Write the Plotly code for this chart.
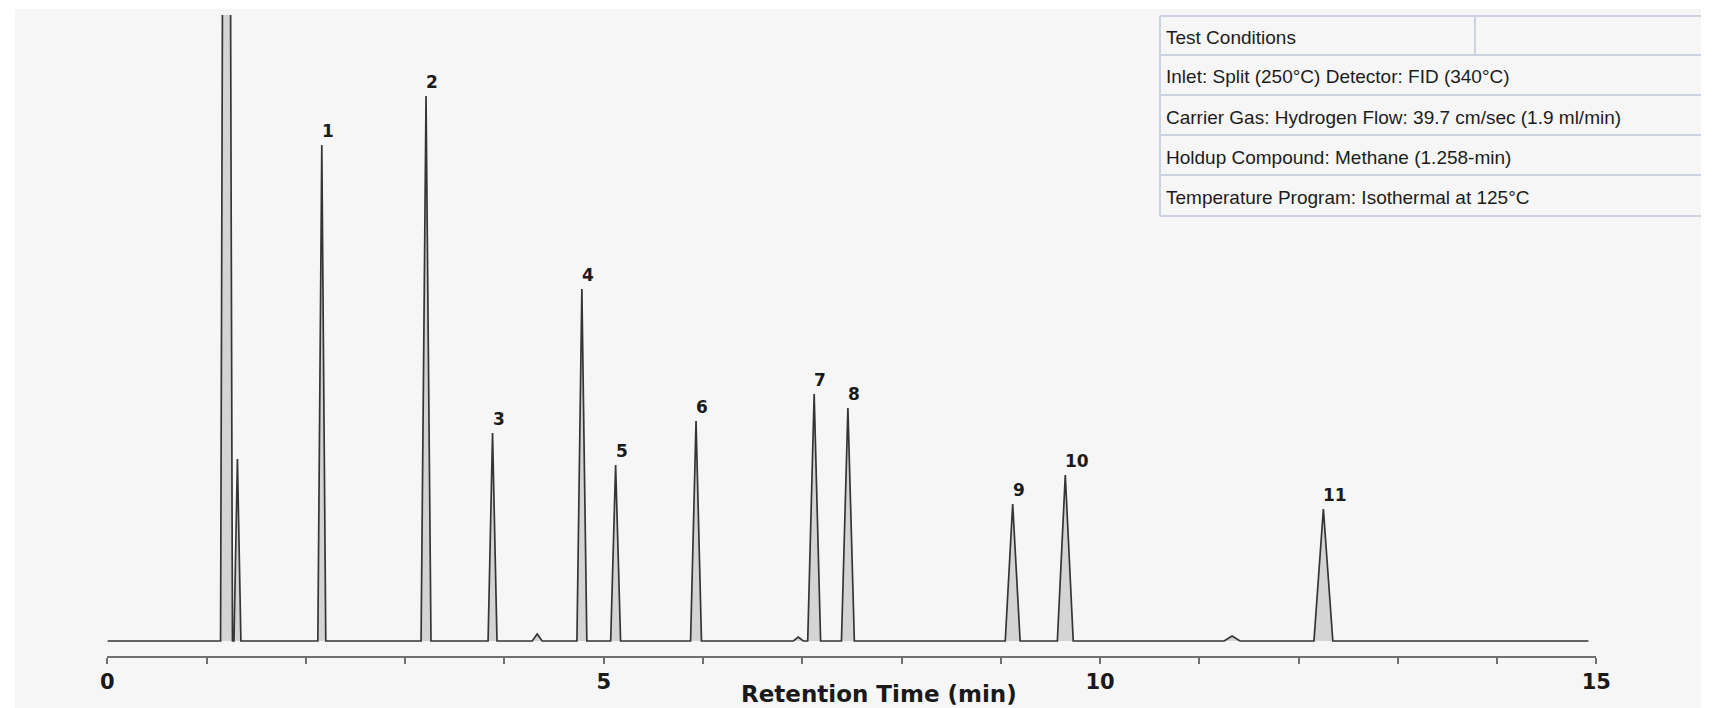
import plotly.graph_objects as go

# Chromatogram peaks: retention time (min), height (detector units), base width (min)
peak_rt = [1.20, 1.31, 2.16, 3.21, 3.88, 4.33, 4.78, 5.12, 5.93, 6.96, 7.12, 7.46,
           9.12, 9.65, 11.33, 12.25]
peak_height = [2000, 182, 496, 545, 208, 7, 352, 176, 220, 4, 247, 233,
               137, 166, 5, 132]
peak_width = [0.12, 0.07, 0.08, 0.10, 0.09, 0.10, 0.10, 0.10, 0.11, 0.10, 0.13, 0.13,
              0.15, 0.16, 0.16, 0.19]
peak_label = ["", "", "1", "2", "3", "", "4", "5", "6", "", "7", "8",
              "9", "10", "", "11"]

run_start = 0.0
run_end = 14.92

conditions = [
    "Test Conditions",
    "Inlet: Split (250°C) Detector: FID (340°C)",
    "Carrier Gas: Hydrogen Flow: 39.7 cm/sec (1.9 ml/min)",
    "Holdup Compound: Methane (1.258-min)",
    "Temperature Program: Isothermal at 125°C",
]

W, H = 1716, 708


def px(x):
    return x / W


def py(y):
    return 1 - y / H


# Build the detector trace: flat baseline with a sharp peak at each retention time
xs, ys = [run_start], [0.0]
for t, h, w in zip(peak_rt, peak_height, peak_width):
    xs += [t - w / 2, t, t + w / 2]
    ys += [0.0, h, 0.0]
xs.append(run_end)
ys.append(0.0)

fig = go.Figure()
fig.add_trace(go.Scatter(
    x=xs, y=ys, mode="lines",
    line=dict(color="#353535", width=1.7),
    fill="tozeroy", fillcolor="rgba(170,170,170,0.45)",
    hoverinfo="skip", showlegend=False,
))

annotations = []
for t, h, lab in zip(peak_rt, peak_height, peak_label):
    if lab:
        annotations.append(dict(
            x=t, y=h, xref="x", yref="y", text=lab, showarrow=False,
            xanchor="left", yanchor="bottom", xshift=-2, yshift=2,
            font=dict(family="DejaVu Sans", size=17, color="#1a1a1a", weight="bold"),
        ))

annotations.append(dict(
    x=px(883), y=py(694), xref="paper", yref="paper",
    text="Retention Time (min)", showarrow=False,
    xanchor="center", yanchor="middle",
    font=dict(family="DejaVu Sans", size=23, color="#1a1a1a", weight="bold"),
))

# Conditions table in the upper right corner
row_edges = [16, 55, 95, 135, 175, 216]
tbl_left, tbl_right, tbl_div = 1168, 1716, 1487
border = "#cbd3e1"
shapes = [
    dict(type="rect", xref="paper", yref="paper", x0=px(8), x1=1, y0=0, y1=py(9),
         fillcolor="#f6f6f6", line=dict(width=0), layer="below"),
]
for ye in row_edges:
    shapes.append(dict(type="line", xref="paper", yref="paper",
                       x0=px(tbl_left), x1=px(tbl_right), y0=py(ye), y1=py(ye),
                       line=dict(color=border, width=2)))
shapes.append(dict(type="line", xref="paper", yref="paper",
                   x0=px(tbl_left), x1=px(tbl_left), y0=py(row_edges[0]), y1=py(row_edges[-1]),
                   line=dict(color=border, width=2)))
shapes.append(dict(type="line", xref="paper", yref="paper",
                   x0=px(tbl_div), x1=px(tbl_div), y0=py(row_edges[0]), y1=py(row_edges[1]),
                   line=dict(color=border, width=2)))
for i, txt in enumerate(conditions):
    yc = (row_edges[i] + row_edges[i + 1]) / 2 + 2
    annotations.append(dict(
        x=px(tbl_left + 4), y=py(yc), xref="paper", yref="paper",
        text=txt, showarrow=False, xanchor="left", yanchor="middle",
        font=dict(family="Liberation Sans", size=19, color="#1c1c1c"),
    ))

fig.update_layout(
    width=W, height=H,
    margin=dict(l=0, r=0, t=0, b=0),
    paper_bgcolor="white",
    plot_bgcolor="rgba(0,0,0,0)",
    shapes=shapes,
    annotations=annotations,
    xaxis=dict(
        domain=[px(101.7), px(1610)],
        range=[0, 15],
        showgrid=False, zeroline=False,
        showline=True, linecolor="#707070", linewidth=1.5,
        ticks="outside", ticklen=6, tickwidth=2, tickcolor="#707070",
        tick0=0, dtick=5,
        minor=dict(dtick=1, ticks="outside", ticklen=6, tickwidth=2, tickcolor="#707070"),
        tickfont=dict(family="DejaVu Sans", size=21, color="#1a1a1a", weight="bold"),
        fixedrange=True,
    ),
    yaxis=dict(
        domain=[52 / H, 1 - 15 / H],
        range=[-15, 626],
        visible=False, fixedrange=True,
    ),
)

fig.write_html("out.html")
